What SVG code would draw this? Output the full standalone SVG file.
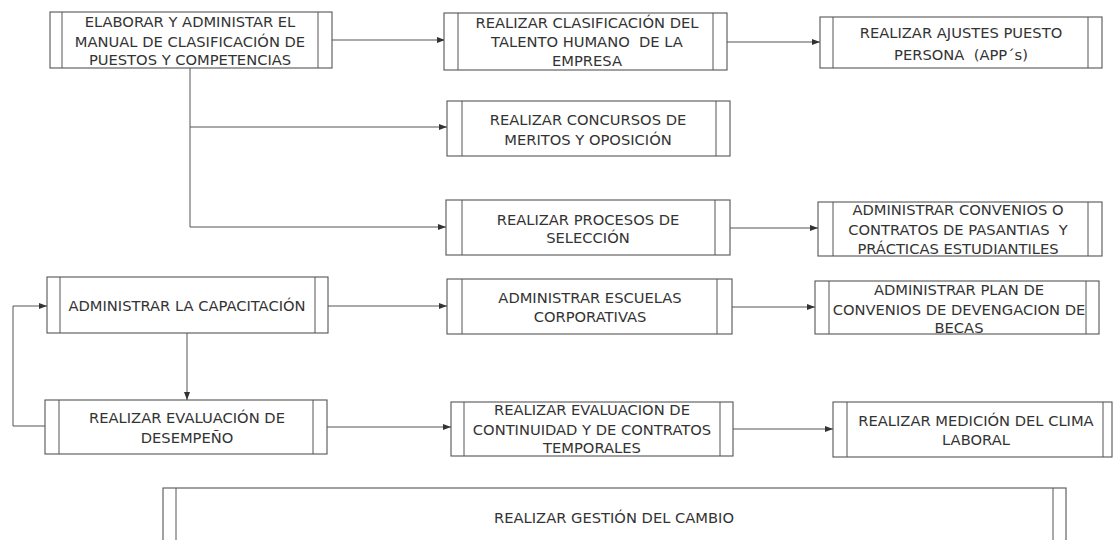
<svg xmlns="http://www.w3.org/2000/svg" width="1113" height="540" viewBox="0 0 1113 540">
<style>
.box{fill:#fff;stroke:#555;stroke-width:1.1}
.bar{stroke:#555;stroke-width:1}
text{font-family:"DejaVu Sans",Verdana,sans-serif;font-size:14.7px;fill:#333;text-anchor:middle;white-space:pre}
.c{fill:none;stroke:#555;stroke-width:1}
</style>
<defs>
<marker id="ah" markerWidth="8" markerHeight="6" refX="8" refY="3" orient="auto" markerUnits="userSpaceOnUse">
<path d="M0,0 L8,3 L0,6 Z" fill="#333"/>
</marker>
</defs>
<rect width="1113" height="540" fill="#fff"/>
<g id="connectors">
<path class="c" d="M332,40 H445" marker-end="url(#ah)"/>
<path class="c" d="M727,42 H820" marker-end="url(#ah)"/>
<path class="c" d="M190,68 V227 H446" marker-end="url(#ah)"/>
<path class="c" d="M190,127 H447" marker-end="url(#ah)"/>
<path class="c" d="M730,228 H818" marker-end="url(#ah)"/>
<path class="c" d="M328,306 H447" marker-end="url(#ah)"/>
<path class="c" d="M732,307 H815" marker-end="url(#ah)"/>
<path class="c" d="M187,333 V400" marker-end="url(#ah)"/>
<path class="c" d="M45,426 H13 V306 H47" marker-end="url(#ah)"/>
<path class="c" d="M327,427 H451" marker-end="url(#ah)"/>
<path class="c" d="M733,429 H833" marker-end="url(#ah)"/>
</g>
<g id="n1">
<rect class="box" x="50" y="12" width="282" height="56"/>
<line class="bar" x1="62" y1="12" x2="62" y2="68"/><line class="bar" x1="318" y1="12" x2="318" y2="68"/>
<text x="190" y="27">ELABORAR Y ADMINISTAR EL</text>
<text x="190" y="47">MANUAL DE CLASIFICACIÓN DE</text>
<text x="190" y="65">PUESTOS Y COMPETENCIAS</text>
</g>
<g id="n2">
<rect class="box" x="444" y="13" width="283" height="57"/>
<line class="bar" x1="458" y1="13" x2="458" y2="70"/><line class="bar" x1="713" y1="13" x2="713" y2="70"/>
<text x="587" y="28">REALIZAR CLASIFICACIÓN DEL</text>
<text x="587" y="47">TALENTO HUMANO&#160; DE LA</text>
<text x="587" y="66">EMPRESA</text>
</g>
<g id="n3">
<rect class="box" x="820" y="17" width="282" height="51"/>
<line class="bar" x1="833" y1="17" x2="833" y2="68"/><line class="bar" x1="1088" y1="17" x2="1088" y2="68"/>
<text x="961" y="38">REALIZAR AJUSTES PUESTO</text>
<text x="961" y="60">PERSONA&#160; (APP´s)</text>
</g>
<g id="n4">
<rect class="box" x="447" y="101" width="283" height="55"/>
<line class="bar" x1="462" y1="101" x2="462" y2="156"/><line class="bar" x1="716" y1="101" x2="716" y2="156"/>
<text x="588" y="125">REALIZAR CONCURSOS DE</text>
<text x="588" y="145">MERITOS Y OPOSICIÓN</text>
</g>
<g id="n5">
<rect class="box" x="446" y="200" width="284" height="55"/>
<line class="bar" x1="462" y1="200" x2="462" y2="255"/><line class="bar" x1="715" y1="200" x2="715" y2="255"/>
<text x="588" y="225">REALIZAR PROCESOS DE</text>
<text x="588" y="243">SELECCIÓN</text>
</g>
<g id="n6">
<rect class="box" x="818" y="202" width="284" height="54"/>
<line class="bar" x1="833" y1="202" x2="833" y2="256"/><line class="bar" x1="1088" y1="202" x2="1088" y2="256"/>
<text x="958" y="215">ADMINISTRAR CONVENIOS O</text>
<text x="958" y="235">CONTRATOS DE PASANTIAS&#160; Y</text>
<text x="958" y="254">PRÁCTICAS ESTUDIANTILES</text>
</g>
<g id="n7">
<rect class="box" x="47" y="277" width="281" height="56"/>
<line class="bar" x1="60" y1="277" x2="60" y2="333"/><line class="bar" x1="315" y1="277" x2="315" y2="333"/>
<text x="187" y="311">ADMINISTRAR LA CAPACITACIÓN</text>
</g>
<g id="n8">
<rect class="box" x="447" y="279" width="285" height="55"/>
<line class="bar" x1="462" y1="279" x2="462" y2="334"/><line class="bar" x1="717" y1="279" x2="717" y2="334"/>
<text x="590" y="303">ADMINISTRAR ESCUELAS</text>
<text x="590" y="322">CORPORATIVAS</text>
</g>
<g id="n9">
<rect class="box" x="815" y="281" width="284" height="53"/>
<line class="bar" x1="829" y1="281" x2="829" y2="334"/><line class="bar" x1="1086" y1="281" x2="1086" y2="334"/>
<text x="959" y="295">ADMINISTRAR PLAN DE</text>
<text x="959" y="315">CONVENIOS DE DEVENGACION DE</text>
<text x="959" y="333">BECAS</text>
</g>
<g id="n10">
<rect class="box" x="45" y="400" width="282" height="54"/>
<line class="bar" x1="59" y1="400" x2="59" y2="454"/><line class="bar" x1="313" y1="400" x2="313" y2="454"/>
<text x="187" y="423">REALIZAR EVALUACIÓN DE</text>
<text x="187" y="443">DESEMPEÑO</text>
</g>
<g id="n11">
<rect class="box" x="451" y="402" width="282" height="54"/>
<line class="bar" x1="464" y1="402" x2="464" y2="456"/><line class="bar" x1="720" y1="402" x2="720" y2="456"/>
<text x="592" y="415">REALIZAR EVALUACION DE</text>
<text x="592" y="435">CONTINUIDAD Y DE CONTRATOS</text>
<text x="592" y="453">TEMPORALES</text>
</g>
<g id="n12">
<rect class="box" x="833" y="402" width="279" height="55"/>
<line class="bar" x1="847" y1="402" x2="847" y2="457"/><line class="bar" x1="1103" y1="402" x2="1103" y2="457"/>
<text x="976" y="426">REALIZAR MEDICIÓN DEL CLIMA</text>
<text x="976" y="445">LABORAL</text>
</g>
<g id="n13">
<rect class="box" x="163" y="488" width="903" height="80"/>
<line class="bar" x1="176" y1="488" x2="176" y2="568"/><line class="bar" x1="1053" y1="488" x2="1053" y2="568"/>
<text x="614" y="523">REALIZAR GESTIÓN DEL CAMBIO</text>
</g>
</svg>
